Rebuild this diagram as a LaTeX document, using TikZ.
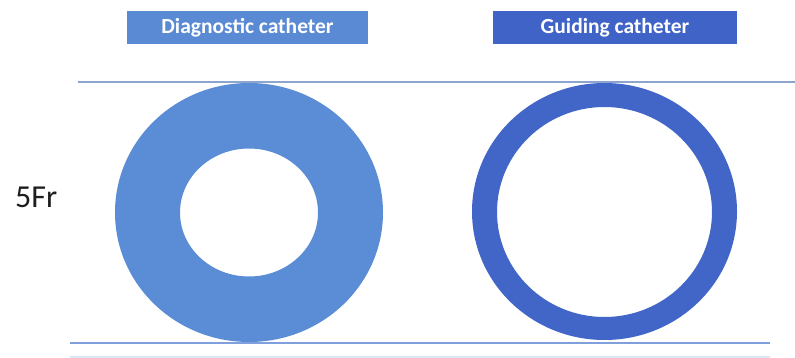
\documentclass[tikz,border=0pt]{standalone}
\usepackage{fontspec}
\setmainfont{Carlito}
\definecolor{diagc}{HTML}{5B8DD6}
\definecolor{guidc}{HTML}{4266C8}
\definecolor{diagbox}{HTML}{5A8AD4}
\definecolor{guidbox}{HTML}{3F63C6}
\definecolor{topline}{HTML}{8DA5CE}
\definecolor{botline}{HTML}{7FA0DC}
\definecolor{faintline}{HTML}{DCE7F5}
\definecolor{labeltext}{HTML}{1E1E1E}
\tikzset{
  headbox/.style={minimum width=#1, minimum height=33pt, inner sep=0pt, text=white,
    font=\fontsize{21.5}{24}\selectfont\bfseries},
  sepline/.style={line width=2pt},
}
\begin{document}
\begin{tikzpicture}[x=1pt,y=-1pt]
\useasboundingbox[fill=white] (0,0) rectangle (795,358);
% header boxes
\node[headbox=241pt, fill=diagbox] (hdiag) at (247.5,27.5) {Diagnostic catheter};
\node[headbox=244pt, fill=guidbox] (hguid) at (615,27.5) {Guiding catheter};
% rings
\fill[diagc, even odd rule] (249,212.5) ellipse [x radius=134, y radius=129.5]
  (249,212.5) ellipse [x radius=69, y radius=64];
\fill[guidc, even odd rule] (604.5,211.5) ellipse [x radius=132.5, y radius=128.5]
  (604.5,212) ellipse [x radius=107.5, y radius=105];
% lines
\coordinate (t1) at (78,82);
\coordinate (t2) at (795,82);
\coordinate (b1) at (70,343);
\coordinate (b2) at (770,343);
\coordinate (f1) at (70,357);
\coordinate (f2) at (770,357);
\draw[line width=2.5pt, topline] (t1) -- (t2);
\draw[sepline, botline] (b1) -- (b2);
\draw[line width=1.5pt, faintline] (f1) -- (f2);
% label
\node[text=labeltext, font=\fontsize{32}{34}\selectfont, inner sep=0pt, anchor=west] (fr) at (15,197) {5Fr};
\end{tikzpicture}
\end{document}
